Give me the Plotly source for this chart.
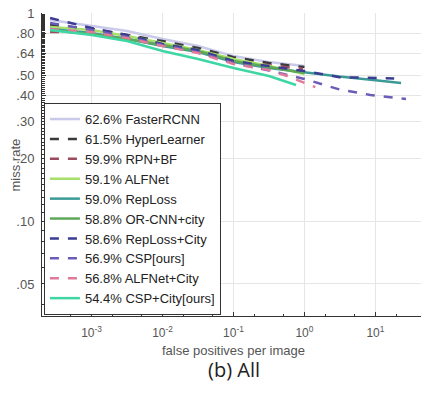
import plotly.graph_objects as go

# ---- data (false positives per image vs. miss rate) ----
grid = [2.6e-4, 1e-3, 3.16e-3, 1e-2, 3.16e-2, 0.1, 0.316, 1.0]

names = ["62.6% FasterRCNN", "61.5% HyperLearner", "59.9% RPN+BF", "59.1% ALFNet",
         "59.0% RepLoss", "58.8% OR-CNN+city", "58.6% RepLoss+City", "56.9% CSP[ours]",
         "56.8% ALFNet+City", "54.4% CSP+City[ours]"]

fppi_fasterrcnn = grid
mr_fasterrcnn = [0.925, 0.866, 0.819, 0.750, 0.694, 0.621, 0.581, 0.556]

fppi_hyperlearner = grid
mr_hyperlearner = [0.876, 0.838, 0.784, 0.733, 0.679, 0.614, 0.575, 0.550]

fppi_rpnbf = [2.6e-4, 1e-3, 3.16e-3, 1e-2, 3.16e-2, 0.1, 0.316, 0.95]
mr_rpnbf = [0.810, 0.810, 0.767, 0.710, 0.657, 0.594, 0.562, 0.538]

fppi_alfnet = grid
mr_alfnet = [0.856, 0.829, 0.775, 0.717, 0.664, 0.601, 0.556, 0.509]

fppi_reploss = grid + [3.1, 10.0, 23.0]
mr_reploss = [0.838, 0.801, 0.750, 0.694, 0.649, 0.581, 0.545, 0.520, 0.495, 0.476, 0.461]

fppi_orcnn = grid
mr_orcnn = [0.829, 0.793, 0.750, 0.702, 0.657, 0.588, 0.550, 0.515]

fppi_replosscity = grid + [3.1, 10.0, 18.4]
mr_replosscity = [0.946, 0.847, 0.784, 0.710, 0.664, 0.588, 0.556, 0.526, 0.492, 0.487, 0.485]

fppi_csp = grid + [3.0, 8.5, 27.0]
mr_csp = [0.895, 0.829, 0.767, 0.702, 0.649, 0.575, 0.530, 0.482, 0.431, 0.404, 0.386]

fppi_alfnetcity = [2.6e-4, 1e-3, 3.16e-3, 1e-2, 3.16e-2, 0.1, 0.316, 0.57, 1.42]
mr_alfnetcity = [0.838, 0.810, 0.758, 0.694, 0.642, 0.569, 0.532, 0.498, 0.441]

fppi_cspcity = [2.6e-4, 1e-3, 3.16e-3, 1e-2, 3.16e-2, 0.1, 0.316, 0.76]
mr_cspcity = [0.829, 0.784, 0.733, 0.657, 0.601, 0.544, 0.498, 0.451]

xs = [fppi_fasterrcnn, fppi_hyperlearner, fppi_rpnbf, fppi_alfnet, fppi_reploss,
      fppi_orcnn, fppi_replosscity, fppi_csp, fppi_alfnetcity, fppi_cspcity]
ys = [mr_fasterrcnn, mr_hyperlearner, mr_rpnbf, mr_alfnet, mr_reploss,
      mr_orcnn, mr_replosscity, mr_csp, mr_alfnetcity, mr_cspcity]

colors = ["#c9c9ea", "#3a3a3a", "#9c4a5e", "#a6e06a", "#3b9a96",
          "#5fa858", "#3c3c92", "#6c5cb8", "#e07a98", "#3fd6a6"]
dashes = ["solid", "dash", "dash", "solid", "solid",
          "solid", "dash", "dash", "dash", "solid"]

y_tickvals = [0.05, 0.10, 0.20, 0.30, 0.40, 0.50, 0.64, 0.80, 1.0]
y_ticktext = [".05", ".10", ".20", ".30", ".40", ".50", ".64", ".80", "1"]
x_tickvals = [1e-3, 1e-2, 1e-1, 1e0, 1e1]
x_ticktext = ["10<sup>-3</sup>", "10<sup>-2</sup>", "10<sup>-1</sup>", "10<sup>0</sup>", "10<sup>1</sup>"]

fig = go.Figure()
for x, y, n, c, d in zip(xs, ys, names, colors, dashes):
    fig.add_trace(go.Scatter(x=x, y=y, mode="lines", name=n,
                             line=dict(color=c, width=2.5, dash=d)))

# page has an 8px body margin, so the figure is sized/offset to compensate
fig.update_layout(
    width=421, height=387,
    margin=dict(l=34, r=4, t=5, b=79),
    paper_bgcolor="white", plot_bgcolor="white",
    font=dict(family="Liberation Sans, Arial, sans-serif", size=12, color="#444"),
    showlegend=True,
    legend=dict(x=0.005, y=0.003, xanchor="left", yanchor="bottom",
                bgcolor="white", bordercolor="#333", borderwidth=1,
                font=dict(size=13, color="#222"), tracegroupgap=0,
                itemwidth=30),
    annotations=[
        dict(text="(b) All", x=0.5, y=-0.125, xref="paper", yref="paper",
             xanchor="center", yanchor="top", showarrow=False,
             font=dict(family="Open Sans, sans-serif", size=20, color="#222")),
        dict(text="miss rate", x=-0.068, y=0.5, xref="paper", yref="paper",
             xanchor="center", yanchor="middle", showarrow=False, textangle=-90,
             font=dict(size=13, color="#555")),
    ],
)
fig.update_xaxes(type="log", range=[-3.699, 1.699], automargin=False,
                 tickvals=x_tickvals, ticktext=x_ticktext,
                 showgrid=True, gridcolor="#e6e6e6", gridwidth=1,
                 showline=True, linecolor="#333", linewidth=1,
                 ticks="inside", ticklen=4, tickcolor="#333",
                 minor=dict(ticks="inside", ticklen=2.5, tickcolor="#333", showgrid=False),
                 zeroline=False, ticklabelstandoff=6,
                 title=dict(text="false positives per image", font=dict(size=13, color="#555"), standoff=6),
                 tickfont=dict(size=12, color="#555"))
fig.update_yaxes(type="log", range=[-1.455, 0], automargin=False,
                 tickvals=y_tickvals, ticktext=y_ticktext,
                 showgrid=True, gridcolor="#e6e6e6", gridwidth=1,
                 showline=True, linecolor="#333", linewidth=1,
                 ticks="inside", ticklen=4, tickcolor="#333",
                 minor=dict(ticks="inside", ticklen=2.5, tickcolor="#333", showgrid=False),
                 zeroline=False, ticklabelstandoff=4, ticklabeloverflow="allow",
                 tickfont=dict(size=13, color="#555"))

fig.write_html("out.html")
